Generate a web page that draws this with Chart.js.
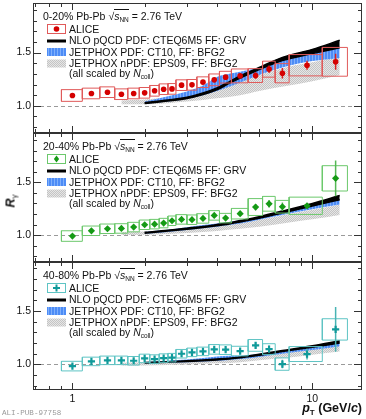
<!DOCTYPE html>
<html>
<head>
<meta charset="utf-8">
<script src="https://cdn.jsdelivr.net/npm/chart.js@4.4.0/dist/chart.umd.min.js"></script>
<style>
  html, body { margin: 0; padding: 0; background: #fff; }
  #wrap { position: relative; width: 366px; height: 419px; overflow: hidden;
          font-family: "Liberation Sans", Arial, Helvetica, sans-serif; color: #111; }
  #wrap canvas { position: absolute; left: 0; }
  .txt { position: absolute; font-size: 10.5px; line-height: 12px; white-space: nowrap; }
  .txt sub { font-size: 6.5px; vertical-align: -2px; line-height: 0; }
  .ov { border-top: 1px solid #111; padding-top: 0px; }
  #ytitle { position: absolute; left: 6px; top: 192px; font-size: 12.5px; font-weight: bold;
            transform: rotate(-90deg); transform-origin: center; white-space: nowrap; line-height: 14px; }
  #ytitle sub { font-size: 8px; font-weight: normal; vertical-align: -2px; }
  #xtitle { position: absolute; right: 4px; top: 401px; font-size: 12.5px; font-weight: bold; line-height: 14px; white-space: nowrap; }
  #xtitle sub { font-size: 8px; vertical-align: -3px; }
  #alipub { position: absolute; left: 2px; top: 409px; font-family: "Liberation Mono", "DejaVu Sans Mono", monospace;
            font-size: 7.6px; color: #9a9a9a; line-height: 9px; }
</style>
</head>
<body>
<div id="wrap">
  <canvas id="c1" width="366" height="139" style="top:0px"></canvas>
  <canvas id="c2" width="366" height="141" style="top:127px"></canvas>
  <canvas id="c3" width="366" height="163" style="top:256px"></canvas>
  <div id="ytitle"><i>R</i><sub>γ</sub></div>
  <div id="xtitle"><i>p</i><sub>T</sub> (GeV/<i>c</i>)</div>
  <div id="alipub">ALI-PUB-97758</div>
</div>
<script>
// pT bins (GeV/c)
const ptCenter = [1.0, 1.2, 1.4, 1.6, 1.8, 2.0, 2.2, 2.4, 2.6, 2.85, 3.15, 3.5, 3.9, 4.35, 5.0, 5.8, 6.6, 7.5, 9.5, 12.5];
const ptLow    = [0.9, 1.1, 1.3, 1.5, 1.7, 1.9, 2.1, 2.3, 2.5, 2.7, 3.0, 3.3, 3.7, 4.1, 4.6, 5.4, 6.2, 7.0, 8.0, 11.0];
const ptHigh   = [1.1, 1.3, 1.5, 1.7, 1.9, 2.1, 2.3, 2.5, 2.7, 3.0, 3.3, 3.7, 4.1, 4.6, 5.4, 6.2, 7.0, 8.0, 11.0, 14.0];

// ALICE R_gamma
const rg0020   = [1.097, 1.116, 1.128, 1.109, 1.116, 1.122, 1.141, 1.156, 1.159, 1.194, 1.197, 1.222, 1.244, 1.269, 1.281, 1.284, 1.344, 1.306, 1.381, 1.413];
const stat0020 = [0.008, 0.008, 0.008, 0.008, 0.008, 0.008, 0.01, 0.01, 0.01, 0.012, 0.012, 0.015, 0.018, 0.02, 0.02, 0.03, 0.035, 0.05, 0.042, 0.075];
const syst0020 = [0.055, 0.05, 0.05, 0.05, 0.05, 0.05, 0.05, 0.05, 0.05, 0.05, 0.05, 0.05, 0.055, 0.055, 0.065, 0.065, 0.075, 0.09, 0.1, 0.135];

const rg2040   = [0.991, 1.041, 1.060, 1.063, 1.076, 1.098, 1.104, 1.114, 1.136, 1.149, 1.146, 1.158, 1.187, 1.161, 1.203, 1.266, 1.297, 1.269, 1.278, 1.538];
const stat2040 = [0.01, 0.01, 0.01, 0.01, 0.01, 0.01, 0.01, 0.01, 0.012, 0.012, 0.012, 0.015, 0.02, 0.02, 0.02, 0.03, 0.035, 0.04, 0.02, 0.17];
const syst2040 = [0.05, 0.045, 0.045, 0.045, 0.045, 0.045, 0.045, 0.045, 0.045, 0.045, 0.045, 0.045, 0.045, 0.045, 0.05, 0.08, 0.07, 0.06, 0.082, 0.12];

const rg4080   = [0.984, 1.028, 1.038, 1.038, 1.034, 1.056, 1.050, 1.059, 1.063, 1.100, 1.113, 1.122, 1.141, 1.138, 1.125, 1.178, 1.144, 1.003, 1.097, 1.328];
const stat4080 = [0.01, 0.01, 0.01, 0.01, 0.01, 0.01, 0.012, 0.012, 0.012, 0.012, 0.015, 0.015, 0.018, 0.02, 0.02, 0.03, 0.03, 0.04, 0.05, 0.21];
const syst4080 = [0.045, 0.04, 0.04, 0.04, 0.04, 0.04, 0.04, 0.04, 0.04, 0.04, 0.04, 0.04, 0.045, 0.045, 0.045, 0.055, 0.05, 0.058, 0.07, 0.1];

// theory curves (all scaled by Ncoll)
const thPt   = [2, 2.5, 3, 3.5, 4, 4.5, 5, 6, 7.5, 10, 13];
const grayPt = [1.6, 2, 2.5, 3, 3.5, 4, 5, 6, 8, 10, 13];

const nloLo0020  = [1.022, 1.045, 1.068, 1.105, 1.15, 1.21, 1.26, 1.34, 1.425, 1.49, 1.545];
const nloHi0020  = [1.03, 1.055, 1.08, 1.12, 1.168, 1.225, 1.28, 1.36, 1.455, 1.53, 1.615];
const ct10Lo0020 = [1.02, 1.04, 1.065, 1.10, 1.14, 1.18, 1.22, 1.29, 1.36, 1.42, 1.45];
const ct10Hi0020 = [1.04, 1.09, 1.135, 1.19, 1.27, 1.30, 1.32, 1.36, 1.44, 1.50, 1.56];
const epsLo0020  = [1.015, 1.015, 1.025, 1.04, 1.055, 1.07, 1.10, 1.14, 1.19, 1.23, 1.29];
const epsHi0020  = [1.05, 1.06, 1.08, 1.10, 1.14, 1.17, 1.24, 1.29, 1.37, 1.41, 1.46];

const nloLo2040  = [1.018, 1.038, 1.056, 1.072, 1.088, 1.105, 1.125, 1.16, 1.21, 1.275, 1.335];
const nloHi2040  = [1.026, 1.046, 1.066, 1.082, 1.1, 1.117, 1.138, 1.175, 1.228, 1.3, 1.375];
const ct10Lo2040 = [1.012, 1.03, 1.048, 1.065, 1.08, 1.095, 1.11, 1.145, 1.19, 1.245, 1.29];
const ct10Hi2040 = [1.03, 1.05, 1.075, 1.095, 1.11, 1.125, 1.14, 1.17, 1.22, 1.28, 1.35];
const epsLo2040  = [1.0, 1.003, 1.01, 1.02, 1.03, 1.04, 1.06, 1.08, 1.12, 1.15, 1.19];
const epsHi2040  = [1.03, 1.035, 1.045, 1.06, 1.075, 1.09, 1.115, 1.145, 1.2, 1.24, 1.29];

const nloLo4080  = [1.012, 1.02, 1.027, 1.035, 1.042, 1.05, 1.062, 1.085, 1.12, 1.16, 1.2];
const nloHi4080  = [1.018, 1.026, 1.034, 1.042, 1.05, 1.058, 1.07, 1.095, 1.13, 1.175, 1.222];
const ct10Lo4080 = [1.008, 1.015, 1.02, 1.028, 1.035, 1.042, 1.05, 1.07, 1.1, 1.135, 1.17];
const ct10Hi4080 = [1.022, 1.035, 1.045, 1.06, 1.075, 1.08, 1.08, 1.10, 1.13, 1.17, 1.21];
const epsLo4080  = [0.99, 0.99, 0.995, 1.0, 1.005, 1.01, 1.02, 1.04, 1.065, 1.09, 1.12];
const epsHi4080  = [1.015, 1.02, 1.025, 1.03, 1.04, 1.05, 1.065, 1.085, 1.12, 1.15, 1.185];

const xMinorTicks = [0.7, 0.8, 0.9, 1, 2, 3, 4, 5, 6, 7, 8, 9, 10];
const xLabelTicks = [1, 10];
const yLabelTicks = [1.0, 1.5];
const legendText = ['ALICE', 'NLO pQCD PDF: CTEQ6M5 FF: GRV', 'JETPHOX PDF: CT10, FF: BFG2', 'JETPHOX nPDF: EPS09, FF: BFG2'];

function makePattern(draw, w, h) {
  const c = document.createElement('canvas');
  c.width = w; c.height = h;
  draw(c.getContext('2d'));
  return c.getContext('2d').createPattern(c, 'repeat');
}
const bluePat = makePattern(g => {
  g.fillStyle = '#4d8cf6'; g.fillRect(0, 0, 3, 3);
  g.fillStyle = '#80b0fb'; g.fillRect(0, 0, 1, 3);
}, 3, 3);
const grayPat = makePattern(g => {
  g.fillStyle = '#e6e6e6'; g.fillRect(0, 0, 2, 2);
  g.fillStyle = '#c4c4c4'; g.fillRect(0, 0, 1, 1); g.fillRect(1, 1, 1, 1);
}, 2, 2);

function pts(xs, ys) { return xs.map((x, i) => ({ x: x, y: ys[i] })); }

function drawMarker(g, style, x, y, color) {
  g.fillStyle = color;
  if (style === 'circle') {
    g.beginPath(); g.arc(x, y, 2.8, 0, Math.PI * 2); g.fill();
  } else if (style === 'rectRot') {
    g.beginPath(); g.moveTo(x, y - 3.6); g.lineTo(x + 2.6, y); g.lineTo(x, y + 3.6); g.lineTo(x - 2.6, y); g.closePath(); g.fill();
  } else {
    g.fillRect(x - 3.5, y - 1, 7, 2); g.fillRect(x - 1, y - 3.5, 2, 7);
  }
}

const panelPlugin = {
  id: 'panelDeco',
  beforeDatasetsDraw(chart) {
    const a = chart.chartArea, g = chart.ctx, y = Math.round(chart.scales.y.getPixelForValue(1.0)) + 0.5;
    g.save();
    g.strokeStyle = '#9a9a9a'; g.lineWidth = 1; g.setLineDash([4, 3]);
    g.beginPath(); g.moveTo(a.left, y); g.lineTo(a.right, y); g.stroke();
    g.restore();
  },
  afterDatasetsDraw(chart) {
    const a = chart.chartArea, g = chart.ctx, xs = chart.scales.x, ys = chart.scales.y;
    const p = chart.options.plugins.panelDeco;
    g.save();
    g.strokeStyle = '#333'; g.lineWidth = 1;
    g.strokeRect(Math.round(a.left) + 0.5, Math.round(a.top) + 0.5, Math.round(a.right - a.left) - 1, Math.round(a.bottom - a.top) - 1);
    g.beginPath();
    xMinorTicks.forEach(v => {
      const x = Math.round(xs.getPixelForValue(v)) + 0.5;
      const len = (v === 1 || v === 10) ? 7 : 4;
      g.moveTo(x, a.bottom); g.lineTo(x, a.bottom - len);
      g.moveTo(x, a.top); g.lineTo(x, a.top + len);
    });
    for (let k = 8; k <= 19; k++) {
      const v = k / 10;
      const y = Math.round(ys.getPixelForValue(v)) + 0.5;
      const len = (k === 10 || k === 15) ? 8 : 4;
      g.moveTo(a.left, y); g.lineTo(a.left + len, y);
      g.moveTo(a.right, y); g.lineTo(a.right - len, y);
    }
    g.stroke();
    // legend symbols
    const t = a.top;
    g.strokeStyle = p.boxColor; g.lineWidth = 1;
    g.strokeRect(47.5, t + 21.5, 18, 9);
    drawMarker(g, p.marker, 56.5, t + 26, p.color);
    g.fillStyle = '#000'; g.fillRect(47, t + 36.5, 19, 3);
    g.fillStyle = bluePat; g.fillRect(47, t + 45, 19, 8);
    g.fillStyle = grayPat; g.fillRect(47, t + 56.5, 19, 8);
    g.restore();
  }
};

function buildPanel(p) {
  const boxes = [], errs = [];
  for (let i = 0; i < ptCenter.length; i++) {
    const lo = p.vals[i] - p.syst[i], hi = p.vals[i] + p.syst[i];
    boxes.push({ x: ptLow[i], y: lo }, { x: ptHigh[i], y: lo }, { x: ptHigh[i], y: hi },
               { x: ptLow[i], y: hi }, { x: ptLow[i], y: lo }, { x: ptLow[i], y: null });
    errs.push({ x: ptCenter[i], y: p.vals[i] - p.stat[i] }, { x: ptCenter[i], y: p.vals[i] + p.stat[i] }, { x: ptCenter[i], y: null });
  }
  const clear = 'rgba(0,0,0,0)';
  const band = (data, fill, bg) => ({ data: data, fill: fill, backgroundColor: bg, borderColor: clear, borderWidth: 0,
                                       pointRadius: 0, cubicInterpolationMode: 'monotone' });
  const bottom = p.showX;
  new Chart(document.getElementById(p.id), {
    type: 'line',
    data: {
      datasets: [
        { data: pts(ptCenter, p.vals), showLine: false, pointStyle: p.marker, pointRadius: p.marker === 'circle' ? 2.8 : 3.6,
          pointBackgroundColor: p.color, pointBorderColor: p.color, pointBorderWidth: p.marker === 'cross' ? 2.2 : 0 },
        { data: errs, borderColor: p.errColor, borderWidth: 1.5, pointRadius: 0, spanGaps: false },
        { data: boxes, borderColor: p.boxColor, borderWidth: 1, pointRadius: 0, spanGaps: false },
        { data: pts(thPt, p.nloLo), fill: '+1', backgroundColor: '#000', borderColor: '#000', borderWidth: 1.5,
          pointRadius: 0, cubicInterpolationMode: 'monotone' },
        { data: pts(thPt, p.nloHi), fill: false, borderColor: '#000', borderWidth: 1.5, pointRadius: 0, cubicInterpolationMode: 'monotone' },
        band(pts(thPt, p.ct10Lo), '+1', bluePat),
        band(pts(thPt, p.ct10Hi), false, clear),
        band(pts(grayPt, p.epsLo), '+1', grayPat),
        band(pts(grayPt, p.epsHi), false, clear)
      ]
    },
    options: {
      responsive: false, animation: false, devicePixelRatio: 1, events: [],
      layout: { autoPadding: false, padding: { left: 0, right: 4, top: p.padTop, bottom: bottom ? 0 : 6 } },
      scales: {
        x: {
          type: 'logarithmic', min: 0.685, max: 16.1, display: bottom,
          grid: { display: false, drawTicks: false }, border: { display: false },
          afterBuildTicks: s => { s.ticks = xLabelTicks.map(v => ({ value: v })); },
          afterFit: s => { if (s.options.display) s.height = 29; s.paddingLeft = 0; s.paddingRight = 0; },
          ticks: { autoSkip: false, maxRotation: 0, padding: 3, color: '#111',
                   font: { family: 'Liberation Sans', size: 10.5 }, callback: v => String(v) }
        },
        y: {
          min: p.yMin, max: p.yMax,
          grid: { display: false, drawTicks: false }, border: { display: false },
          afterBuildTicks: s => { s.ticks = yLabelTicks.map(v => ({ value: v })); },
          afterFit: s => { s.width = 33; s.paddingTop = 0; s.paddingBottom = 0; },
          ticks: { padding: 2, color: '#111', font: { family: 'Liberation Sans', size: 10.5 },
                   callback: v => Number(v).toFixed(1) }
        }
      },
      plugins: {
        legend: { display: false }, tooltip: { enabled: false },
        panelDeco: { boxColor: p.boxColor, color: p.color, marker: p.marker }
      }
    },
    plugins: [panelPlugin]
  });

  // legend text
  const wrap = document.getElementById('wrap');
  const add = (html, x, yc) => {
    const d = document.createElement('div');
    d.className = 'txt'; d.innerHTML = html;
    d.style.left = x + 'px'; d.style.top = (p.top + yc - 6) + 'px';
    wrap.appendChild(d);
  };
  add(p.cent + ' Pb-Pb <span>√</span><span class="ov"><i>s</i><sub>NN</sub></span> = 2.76 TeV', 43, 12.5);
  legendText.forEach((s, i) => add(s, 69, 26 + i * 11.3));
  add('(all scaled by <i>N</i><sub>coll</sub>)', 69, 70);
}

buildPanel({ id: 'c1', top: 3, padTop: 3, showX: false, yMin: 0.745, yMax: 1.965, cent: '0-20%',
  vals: rg0020, stat: stat0020, syst: syst0020, marker: 'circle', color: '#d40000', errColor: '#dc2020', boxColor: '#e05a5a',
  nloLo: nloLo0020, nloHi: nloHi0020, ct10Lo: ct10Lo0020, ct10Hi: ct10Hi0020, epsLo: epsLo0020, epsHi: epsHi0020 });
buildPanel({ id: 'c2', top: 133, padTop: 6, showX: false, yMin: 0.745, yMax: 1.968, cent: '20-40%',
  vals: rg2040, stat: stat2040, syst: syst2040, marker: 'rectRot', color: '#159a15', errColor: '#55b855', boxColor: '#6cc86c',
  nloLo: nloLo2040, nloHi: nloHi2040, ct10Lo: ct10Lo2040, ct10Hi: ct10Hi2040, epsLo: epsLo2040, epsHi: epsHi2040 });
buildPanel({ id: 'c3', top: 262, padTop: 6, showX: true, yMin: 0.76, yMax: 1.96, cent: '40-80%',
  vals: rg4080, stat: stat4080, syst: syst4080, marker: 'cross', color: '#109a9a', errColor: '#48b4b4', boxColor: '#5ec4c4',
  nloLo: nloLo4080, nloHi: nloHi4080, ct10Lo: ct10Lo4080, ct10Hi: ct10Hi4080, epsLo: epsLo4080, epsHi: epsHi4080 });
</script>
</body>
</html>
